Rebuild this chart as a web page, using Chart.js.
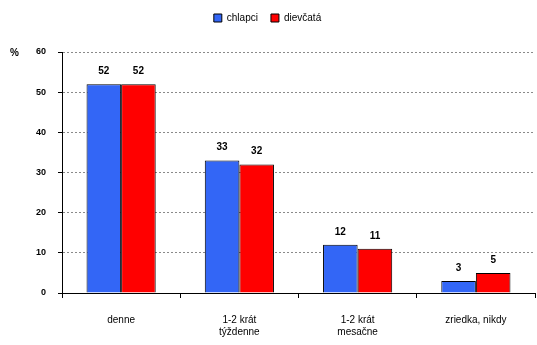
<!DOCTYPE html>
<html>
<head>
<meta charset="utf-8">
<script src="https://cdn.jsdelivr.net/npm/chart.js@4/dist/chart.umd.min.js"></script>
<style>
  html, body { margin: 0; padding: 0; background: #fff; }
  #wrap { width: 537px; height: 345px; position: relative; }
</style>
</head>
<body>
<div id="wrap"><canvas id="c" width="537" height="345"></canvas></div>
<script>
// Frequency categories (x axis)
const categories = [
  ["denne"],
  ["1-2 krát", "týždenne"],
  ["1-2 krát", "mesačne"],
  ["zriedka, nikdy"]
];
// Share of respondents, in percent
const boys = [52, 33, 12, 3];
const girls = [52, 32, 11, 5];
const seriesNames = ["chlapci", "dievčatá"];
const yTicks = [0, 10, 20, 30, 40, 50, 60];

const FONT = "'Liberation Sans', Arial, sans-serif";

// Value labels above each bar
const valueLabels = {
  id: 'valueLabels',
  afterDatasetsDraw(chart) {
    const ctx = chart.ctx;
    ctx.save();
    ctx.font = "bold 10px " + FONT;
    ctx.fillStyle = "#000";
    ctx.textAlign = "center";
    ctx.textBaseline = "bottom";
    chart.data.datasets.forEach((ds, i) => {
      chart.getDatasetMeta(i).data.forEach((bar, j) => {
        ctx.fillText(String(ds.data[j]), bar.x, bar.y - 8);
      });
    });
    ctx.restore();
  }
};

// Unit marker next to the top of the value axis
const unitLabel = {
  id: 'unitLabel',
  afterDraw(chart) {
    const ctx = chart.ctx;
    const y = chart.scales.y.getPixelForValue(60);
    ctx.save();
    ctx.font = "bold 10px " + FONT;
    ctx.fillStyle = "#000";
    ctx.textAlign = "left";
    ctx.textBaseline = "middle";
    ctx.fillText("%", 10, y + 1);
    ctx.restore();
  }
};

// Fixed legend band height
const legendBand = {
  id: 'legendBand',
  beforeLayout(chart) {
    const lg = chart.legend;
    if (lg && !lg._bandPatched) {
      const fit = lg.fit.bind(lg);
      lg.fit = function () { fit(); this.height = 52; };
      lg._bandPatched = true;
    }
  }
};

new Chart(document.getElementById('c'), {
  type: 'bar',
  data: {
    labels: categories,
    datasets: [
      { label: seriesNames[0], data: boys, backgroundColor: '#3366F6', borderColor: '#000', borderWidth: 1 },
      { label: seriesNames[1], data: girls, backgroundColor: '#FF0000', borderColor: '#000', borderWidth: 1 }
    ]
  },
  options: {
    responsive: false,
    animation: false,
    devicePixelRatio: 1,
    layout: { padding: { left: 0, right: 2, top: 0, bottom: 0 } },
    datasets: { bar: { categoryPercentage: 0.585, barPercentage: 1.0 } },
    plugins: {
      legend: {
        position: 'top',
        align: 'center',
        labels: {
          boxWidth: 8, boxHeight: 8, padding: 13,
          color: '#000',
          font: { family: FONT, size: 10 }
        }
      },
      tooltip: { enabled: false }
    },
    scales: {
      x: {
        afterFit(s) { s.height = 52; },
        border: { color: '#000', width: 1 },
        grid: { offset: true, drawOnChartArea: false, drawTicks: true, tickLength: 5, tickColor: '#000' },
        ticks: { color: '#000', font: { family: FONT, size: 10 }, padding: 16, maxRotation: 0, autoSkip: false }
      },
      y: {
        min: 0, max: 60,
        afterFit(s) { s.width = 62; },
        afterBuildTicks(s) { s.ticks = yTicks.map(v => ({ value: v })); },
        border: { color: '#000', width: 1, dash: [2, 2] },
        grid: {
          color: '#8a8a8a', lineWidth: 1,
          drawTicks: true, tickLength: 4, tickColor: '#000', tickBorderDash: []
        },
        ticks: { color: '#000', font: { family: FONT, size: 9, weight: 'bold' }, padding: 12 }
      }
    }
  },
  plugins: [valueLabels, unitLabel, legendBand]
});
</script>
</body>
</html>
